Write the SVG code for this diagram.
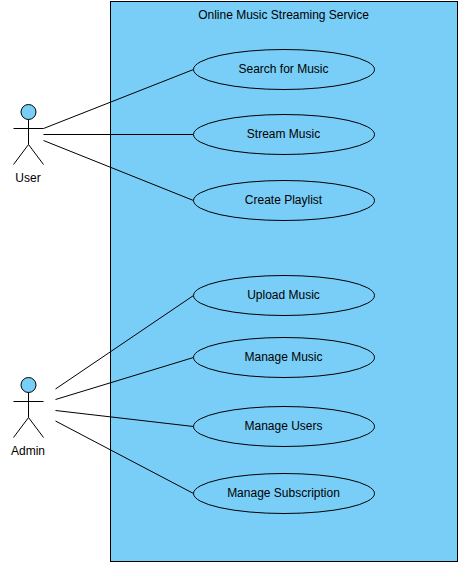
<svg xmlns="http://www.w3.org/2000/svg" width="458" height="562" viewBox="0 0 458 562">
<style>
.b{fill:#79cef7;stroke:#000;stroke-width:1}
.l{fill:none;stroke:#000;stroke-width:1}
text{font-family:"Liberation Sans",Arial,sans-serif;font-size:12px;fill:#000;text-anchor:middle}
</style>
<rect width="458" height="562" fill="#fff"/>
<g id="system"><rect class="b" x="110.500" y="1.500" width="347" height="560"/><text x="283.500" y="19">Online Music Streaming Service</text></g>
<g id="connectors">
<path class="l" d="M43.500 128.500L193.500 69.500M43.500 134.500H193.500M43.500 140.500L193.500 200.500M55.500 389L193.500 295.500M55.500 399.500L193.500 357.500M55.500 410.500L193.500 426.500M55.500 421L193.500 493.500"/>
</g>
<g id="user"><circle class="b" cx="28.500" cy="112" r="7.500"/><path class="l" d="M28.500 119.500V144.500M13.500 128.500H43.500M13.500 164.500L28.500 144.500L43.500 164.500"/><text x="28" y="182">User</text></g>
<g id="admin"><circle class="b" cx="28.500" cy="385" r="7.500"/><path class="l" d="M28.500 392.500V417.500M13.500 401.500H43.500M13.500 437.500L28.500 417.500L43.500 437.500"/><text x="28" y="455">Admin</text></g>
<g id="uc1"><ellipse class="b" cx="284" cy="69.500" rx="90.500" ry="20"/><text x="283.500" y="73">Search for Music</text></g>
<g id="uc2"><ellipse class="b" cx="284" cy="134.500" rx="90.500" ry="20"/><text x="283.500" y="138">Stream Music</text></g>
<g id="uc3"><ellipse class="b" cx="284" cy="200.500" rx="90.500" ry="20"/><text x="283.500" y="204">Create Playlist</text></g>
<g id="uc4"><ellipse class="b" cx="284" cy="295.500" rx="90.500" ry="20"/><text x="283.500" y="299">Upload Music</text></g>
<g id="uc5"><ellipse class="b" cx="284" cy="357.500" rx="90.500" ry="20"/><text x="283.500" y="361">Manage Music</text></g>
<g id="uc6"><ellipse class="b" cx="284" cy="426.500" rx="90.500" ry="20"/><text x="283.500" y="430">Manage Users</text></g>
<g id="uc7"><ellipse class="b" cx="284" cy="493.500" rx="90.500" ry="20"/><text x="283.500" y="497">Manage Subscription</text></g>
</svg>
